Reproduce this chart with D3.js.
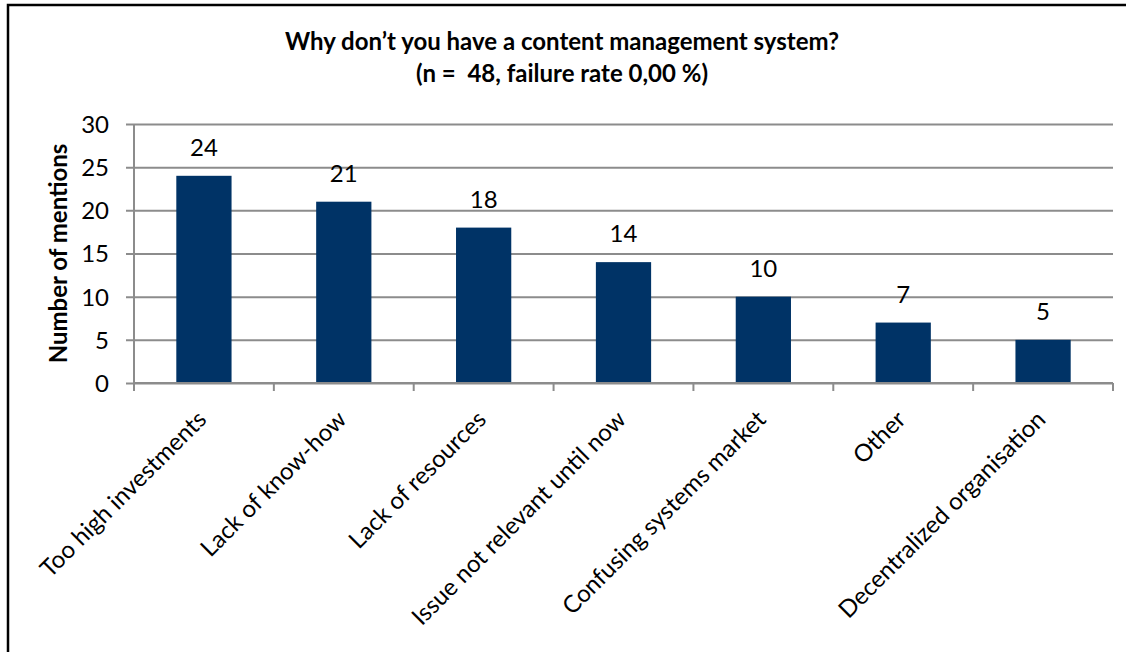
<!DOCTYPE html>
<html>
<head>
<meta charset="utf-8">
<script src="https://cdn.jsdelivr.net/npm/d3@7"></script>
<style>
  body { margin: 0; background: #fff; }
  text { font-family: Lato, "Open Sans", sans-serif; fill: #000; }
</style>
</head>
<body>
<div id="chart"></div>
<script>
const width = 1126,
    height = 652,
    margin = ({ top: 124, right: 13, bottom: 269, left: 134 });

// chart data
const categories = ["Too high investments", "Lack of know-how", "Lack of resources",
    "Issue not relevant until now", "Confusing systems market", "Other", "Decentralized organisation"];
const mentions = [24, 21, 18, 14, 10, 7, 5];
const yTicks = [0, 5, 10, 15, 20, 25, 30];

const data = categories.map((c, i) => ({ name: c, value: mentions[i] }));

const svg = d3.select("#chart")
    .append("svg")
    .attr("width", width)
    .attr("height", height);

// frame (only top and left edges are visible in the original)
svg.append("path")
    .attr("d", `M8,${height} V5 H${width}`)
    .attr("fill", "none")
    .attr("stroke", "#000")
    .attr("stroke-width", 2.5);

let x = d3.scaleBand()
    .domain(categories)
    .range([margin.left, width - margin.right])
    .paddingInner(0.605)
    .paddingOuter(0.3025);

let y = d3.scaleLinear()
    .domain([0, 30])
    .range([height - margin.bottom, margin.top]);

// gridlines + y axis
svg.append("g")
    .attr("class", "y-axis")
    .attr("transform", `translate(${margin.left},0)`)
    .call(d3.axisLeft(y)
        .tickValues(yTicks)
        .tickSize(8)
        .tickPadding(17))
    .call(g => g.select(".domain").remove())
    .call(g => g.selectAll(".tick line")
        .attr("stroke", "#8c8c8c")
        .attr("stroke-width", 2)
        .attr("x2", width - margin.right - margin.left)
        .attr("x1", -8))
    .call(g => g.selectAll(".tick text")
        .style("font-size", "24px")
        .attr("dy", "0.35em"));

// y axis line
svg.append("line")
    .attr("x1", margin.left).attr("x2", margin.left)
    .attr("y1", y(30)).attr("y2", y(0))
    .attr("stroke", "#8c8c8c")
    .attr("stroke-width", 2);

// bars
svg.append("g")
    .selectAll("rect")
    .data(data)
    .join("rect")
    .attr("x", d => x(d.name))
    .attr("y", d => y(d.value))
    .attr("width", x.bandwidth())
    .attr("height", d => y(0) - y(d.value))
    .attr("fill", "#003366");

// value labels
svg.append("g")
    .selectAll("text")
    .data(data)
    .join("text")
    .attr("x", d => x(d.name) + x.bandwidth() / 2)
    .attr("y", d => y(d.value) - 20)
    .attr("text-anchor", "middle")
    .style("font-size", "24px")
    .text(d => d.value);

// x axis with ticks between categories
const boundaries = d3.range(categories.length + 1).map(i => margin.left + i * (width - margin.right - margin.left) / categories.length);
svg.append("g")
    .selectAll("line")
    .data(boundaries)
    .join("line")
    .attr("x1", d => d).attr("x2", d => d)
    .attr("y1", y(0)).attr("y2", y(0) + 8)
    .attr("stroke", "#8c8c8c")
    .attr("stroke-width", 2);

svg.append("line")
    .attr("x1", margin.left).attr("x2", width - margin.right)
    .attr("y1", y(0)).attr("y2", y(0))
    .attr("stroke", "#8c8c8c")
    .attr("stroke-width", 2);

// rotated category labels
svg.append("g")
    .selectAll("text")
    .data(data)
    .join("text")
    .attr("transform", d => `translate(${x(d.name) + x.bandwidth() / 2 - 2},${y(0) + 32}) rotate(-45)`)
    .attr("text-anchor", "end")
    .attr("dy", "0.35em")
    .style("font-size", "24px")
    .text(d => d.name);

// title
svg.append("text")
    .attr("x", 562)
    .attr("y", 50)
    .attr("text-anchor", "middle")
    .style("font-size", "24px")
    .style("font-weight", "bold")
    .text("Why don\u2019t you have a content management system?");

svg.append("text")
    .attr("x", 562)
    .attr("y", 82)
    .attr("text-anchor", "middle")
    .style("font-size", "24px")
    .style("font-weight", "bold")
    .style("white-space", "pre")
    .text("(n =  48, failure rate 0,00 %)");

// y label
svg.append("text")
    .attr("transform", `translate(67,${(y(0) + y(30)) / 2}) rotate(-90)`)
    .attr("text-anchor", "middle")
    .style("font-size", "24px")
    .style("font-weight", "bold")
    .text("Number of mentions");
</script>
</body>
</html>
